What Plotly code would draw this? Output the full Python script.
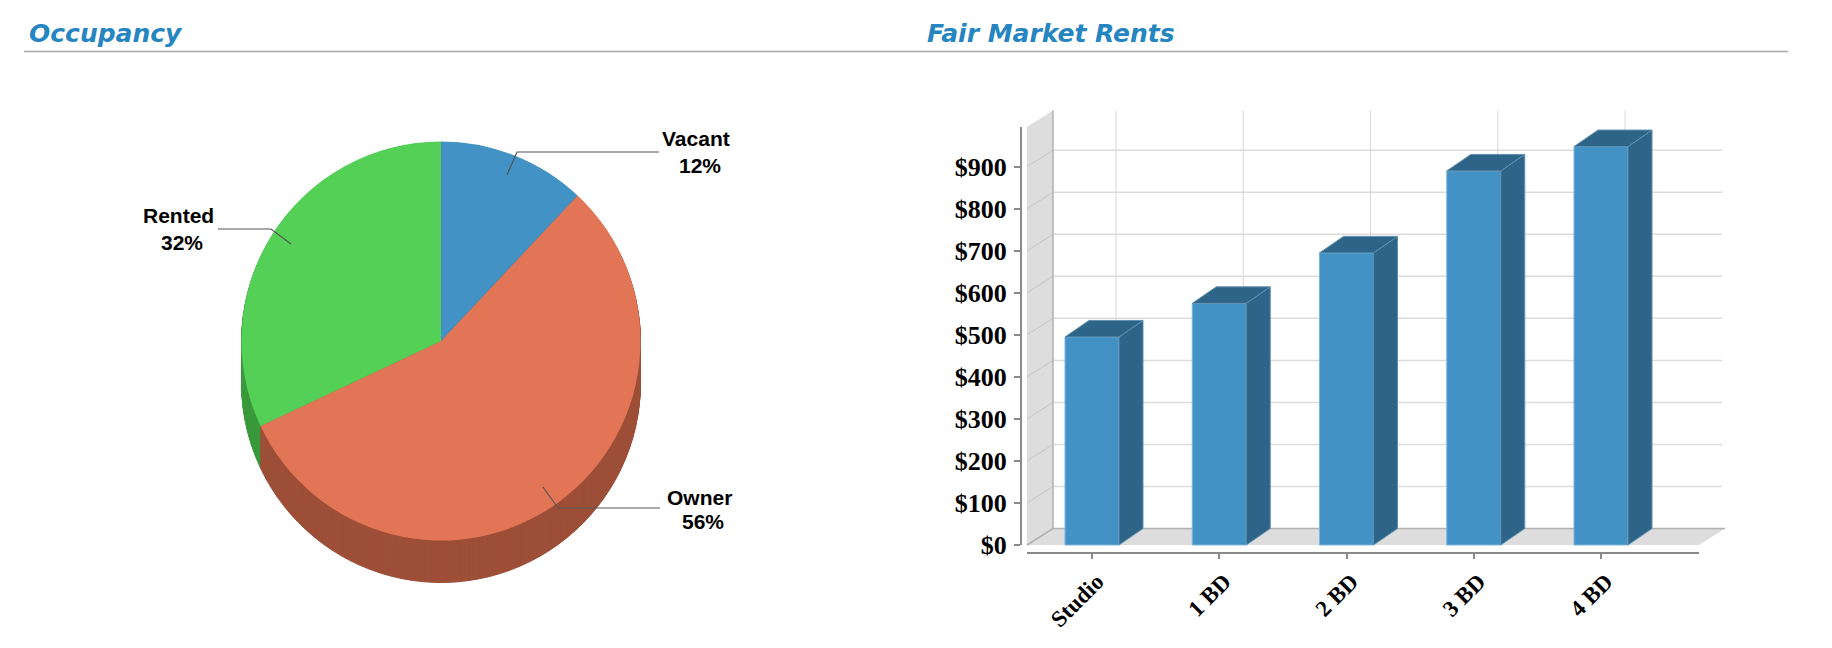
import plotly.graph_objects as go

# ---- data ----
pie_labels = ["Vacant", "Owner", "Rented"]
pie_values = [12, 56, 32]
pie_colors = ["#4292c6", "#e27555", "#54d056"]
pie_dark = ["#2e6488", "#9e4f38", "#3a9a3c"]

bar_categories = ["Studio", "1 BD", "2 BD", "3 BD", "4 BD"]
bar_values = [495, 575, 695, 890, 948]
tick_values = [0, 100, 200, 300, 400, 500, 600, 700, 800, 900]

# ---- layout helpers (pixels -> paper) ----
W, H = 1832, 648
def px(x): return x / W
def py(y): return 1 - y / H

fig = go.Figure()

# ---- pie: stacked darker layers give the depth, then the top face ----
CX, CY, R, DEPTH = 441, 341, 199.5, 42
def pie(offset, colors, edge):
    return go.Pie(values=pie_values, labels=pie_labels, sort=False, direction="clockwise",
                  rotation=0, textinfo="none", hoverinfo="skip", showlegend=False,
                  marker=dict(colors=colors, line=dict(width=edge, color=colors)),
                  domain=dict(x=[px(CX - R), px(CX + R)],
                              y=[py(CY + offset + R), py(CY + offset - R)]))
for off in range(DEPTH, 0, -1):
    fig.add_trace(pie(off, pie_dark, 1))
fig.add_trace(pie(0, pie_colors, 0))

# ---- bar chart axes geometry ----
X0_PX, STEP_PX = 1092, 127.25           # pixel of first category, pixels per category
Y0_PX, UNIT_PX = 545, 0.4203            # pixel of $0, pixels per dollar
L, RT, T, B = 1021, 1726, 110, 553      # plot area
to_x = lambda p: (p - X0_PX) / STEP_PX
to_y = lambda p: (Y0_PX - p) / UNIT_PX
xr = [to_x(L), to_x(RT)]
yr = [to_y(B), to_y(T)]
dx, dy = 24 / STEP_PX, 16.5 / UNIT_PX
bw = 54 / STEP_PX
xl, xb = to_x(1027), to_x(1053)
xf_end, xb_end = to_x(1699), to_x(1725)
ytop_front = to_y(127)

bg = dict(mode="lines", hoverinfo="skip", showlegend=False, cliponaxis=False, zorder=0)

# wall and floor
fig.add_trace(go.Scatter(x=[xl, xb, xb, xl, xl], y=[0, dy, ytop_front + dy, ytop_front, 0],
                         fill="toself", fillcolor="#dddddd", line=dict(width=0), **bg))
fig.add_trace(go.Scatter(x=[xl, xb, xb_end, xf_end, xl], y=[0, dy, dy, 0, 0],
                         fill="toself", fillcolor="#dddddd", line=dict(width=0), **bg))

# gridlines: back wall and vertical
gx, gy = [], []
for v in tick_values[1:]:
    gx += [xb, to_x(1722), None]
    gy += [v + dy, v + dy, None]
fig.add_trace(go.Scatter(x=gx, y=gy, line=dict(color="#dcdcdc", width=1.5), **bg))
gx, gy = [], []
for i in range(len(bar_categories)):
    gx += [i + dx, i + dx, None]
    gy += [dy, ytop_front + dy, None]
fig.add_trace(go.Scatter(x=gx, y=gy, line=dict(color="#d8d8d8", width=1), **bg))
# gridlines: side wall
gx, gy = [], []
for v in tick_values[1:]:
    gx += [xl, xb, None]
    gy += [v, v + dy, None]
fig.add_trace(go.Scatter(x=gx, y=gy, line=dict(color="#c4c4c4", width=1), **bg))
fig.add_trace(go.Scatter(x=[xb, xb, None, xl, xb, xb_end], y=[dy, ytop_front + dy, None, 0, dy, dy],
                         line=dict(color="#b0b0b0", width=1.5), **bg))

# bar fronts
xs = list(range(len(bar_categories)))
fig.add_trace(go.Bar(x=xs, y=bar_values, width=bw, hoverinfo="skip", showlegend=False, zorder=1,
                     marker=dict(color="#4292c6", line=dict(color="#7db4d8", width=1))))

# bar sides and tops
for i, v in zip(xs, bar_values):
    r = i + bw / 2
    l = i - bw / 2
    fig.add_trace(go.Scatter(x=[r, r + dx, r + dx, r, r], y=[0, dy, v + dy, v, 0],
                             mode="lines", fill="toself", fillcolor="#2e6488",
                             line=dict(color="#5f8fb0", width=1), hoverinfo="skip",
                             showlegend=False, zorder=2))
    fig.add_trace(go.Scatter(x=[l, l + dx, r + dx, r, l], y=[v, v + dy, v + dy, v, v],
                             mode="lines", fill="toself", fillcolor="#2e6488",
                             line=dict(color="#5f8fb0", width=1), hoverinfo="skip",
                             showlegend=False, zorder=2))

AXIS_FONT = dict(family="Liberation Serif", size=26, color="#000000", weight="bold")
XTICK_FONT = dict(family="Liberation Serif", size=23, color="#000000", weight="bold")
LABEL_FONT = dict(family="Liberation Sans", size=21, color="#000000", weight="bold")
TITLE_FONT = dict(family="DejaVu Sans", size=25, color="#2585c0", weight="bold", style="italic")

# ---- line shapes ----
def path_shape(pts, color, width=1.2):
    d = "M" + " L".join(f"{px(x)},{py(y)}" for x, y in pts)
    return dict(type="path", xref="paper", yref="paper", path=d,
                line=dict(color=color, width=width), layer="above")

shapes = [
    path_shape([(24, 51.5), (1788, 51.5)], "#a8a8a8", 1.5),
    path_shape([(1021, 127), (1021, 545)], "#8a8a8a", 2),
    path_shape([(1027, 553), (1699, 553)], "#8a8a8a", 2),
    path_shape([(507, 175), (517, 152), (659, 152)], "#555555"),
    path_shape([(291, 244), (271, 229), (218, 229)], "#555555"),
    path_shape([(543, 487), (558, 508), (660, 508)], "#555555"),
]

# ---- texts ----
def note(text, x, y, font, xanchor="center"):
    return dict(text=text, x=px(x), y=py(y), xref="paper", yref="paper", showarrow=False,
                xanchor=xanchor, yanchor="middle", align="center", font=font)

pct = {k: f"{v}%" for k, v in zip(pie_labels, pie_values)}
annotations = [
    note("Occupancy", 27, 33, TITLE_FONT, "left"),
    note("Fair Market Rents", 925, 33, TITLE_FONT, "left"),
    note("Vacant", 696, 139, LABEL_FONT), note(pct["Vacant"], 700, 165, LABEL_FONT),
    note("Rented", 178, 216, LABEL_FONT), note(pct["Rented"], 182, 242, LABEL_FONT),
    note("Owner", 699, 497, LABEL_FONT), note(pct["Owner"], 703, 521, LABEL_FONT),
]

fig.update_layout(
    width=W, height=H, margin=dict(l=0, r=0, t=0, b=0),
    paper_bgcolor="white", plot_bgcolor="white", showlegend=False,
    shapes=shapes, annotations=annotations,
    xaxis=dict(domain=[px(L), px(RT)], range=xr, tickvals=xs, ticktext=bar_categories,
               tickangle=-45, ticks="outside", ticklen=5, tickwidth=1.5, tickcolor="#8a8a8a",
               ticklabelshift=5,
               showgrid=False, zeroline=False, showline=False, tickfont=XTICK_FONT,
               automargin=False),
    yaxis=dict(domain=[py(B), py(T)], range=yr, tickvals=tick_values,
               ticktext=[f"${v}" for v in tick_values],
               ticks="outside", ticklen=6, tickwidth=1.5, tickcolor="#8a8a8a",
               ticklabelstandoff=2,
               showgrid=False, zeroline=False, showline=False, tickfont=AXIS_FONT,
               automargin=False),
)

fig.write_html("out.html", post_script="document.body.style.margin='0';",
               config={"displayModeBar": False})
